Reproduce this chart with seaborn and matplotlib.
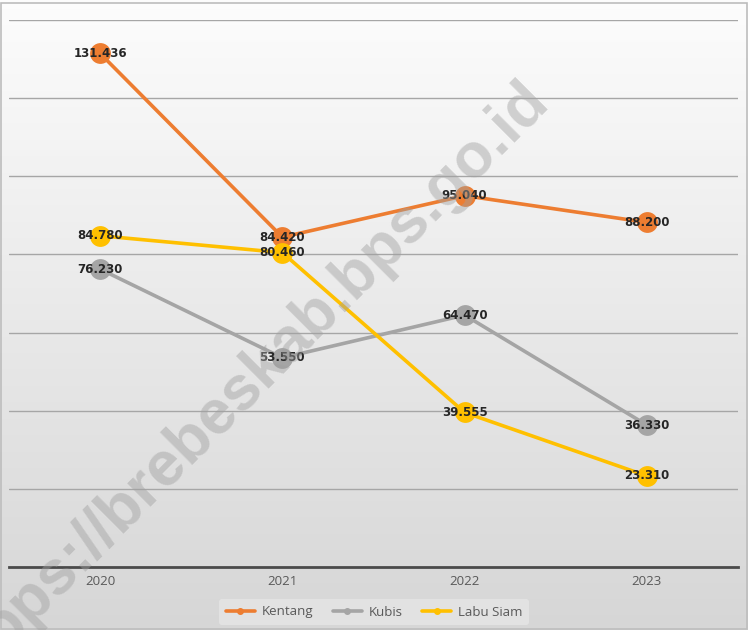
import numpy as np
import pandas as pd
import matplotlib
matplotlib.use("Agg")
import matplotlib.pyplot as plt
import seaborn as sns
from matplotlib.lines import Line2D
from matplotlib.patches import Rectangle

# data produksi sayuran (kuintal)
tahun = ["2020", "2021", "2022", "2023"]
kentang = [131436, 84420, 95040, 88200]
kubis = [76230, 53550, 64470, 36330]
labu_siam = [84780, 80460, 39555, 23310]

seri = ["Kentang", "Kubis", "Labu Siam"]
warna = ["#ED7D31", "#A5A5A5", "#FFC000"]

df = pd.DataFrame({
    "tahun": tahun * 3,
    "nilai": kentang + kubis + labu_siam,
    "seri": [s for s in seri for _ in tahun],
})

sns.set_style("white")
plt.rcParams["font.family"] = ["Open Sans", "DejaVu Sans"]

fig = plt.figure(figsize=(7.48, 6.3), dpi=100)

# latar gradien abu-abu
bg = fig.add_axes([0, 0, 1, 1], zorder=-5)
grad = np.linspace(0.99, 0.84, 256).reshape(-1, 1)
bg.imshow(np.dstack([grad, grad, grad]), aspect="auto", extent=[0, 1, 0, 1])
bg.set_axis_off()

ax = fig.add_axes([9 / 748, 63 / 630, 729 / 748, 547 / 630])
ax.patch.set_alpha(0)

sns.lineplot(data=df, x="tahun", y="nilai", hue="seri", palette=warna,
             marker="o", markersize=15, markeredgewidth=0, linewidth=2.6,
             sort=False, legend=False, ax=ax)

ax.set_ylim(0, 140000)
ax.set_xlim(-0.5, 3.5)
ax.set_yticks(np.arange(20000, 140001, 20000))
ax.yaxis.grid(True, color="#a6a6a6", linewidth=1)
ax.set_axisbelow(True)
ax.set_yticklabels([])
ax.tick_params(axis="y", length=0)
ax.tick_params(axis="x", length=0, colors="#595959", labelsize=9.5, pad=6)
for s in ["top", "right", "left"]:
    ax.spines[s].set_visible(False)
ax.spines["bottom"].set_color("#4a4a4a")
ax.spines["bottom"].set_linewidth(2)
ax.set_xlabel("")
ax.set_ylabel("")

# label data
for nilai_seri in [kentang, kubis, labu_siam]:
    for i, v in enumerate(nilai_seri):
        teks = f"{v:,}".replace(",", ".")
        ax.text(i, v, teks, ha="center", va="center", fontsize=8.5,
                fontweight="bold", color="#262626", family="DejaVu Sans", zorder=5)

# legenda
handles = [Line2D([0], [0], color=c, lw=2.6, marker="o", markersize=4) for c in warna]
leg = fig.legend(handles, seri, loc="center", bbox_to_anchor=(0.5, 18 / 630),
                 ncol=3, frameon=True, fontsize=9.5, handlelength=2.2,
                 columnspacing=1.5, borderpad=0.5, handletextpad=0.5)
leg.get_frame().set_facecolor("#e6e6e6")
leg.get_frame().set_edgecolor("none")
for t in leg.get_texts():
    t.set_color("#595959")

# watermark
fig.text(0.355, 0.42, "bps://brebeskab.bps.go.id", rotation=45, ha="center",
         va="center", fontsize=45, fontweight="bold", color="#a0a0a0",
         alpha=0.45, rotation_mode="anchor", family="Liberation Sans", zorder=10)

# bingkai
fig.patches.append(Rectangle((0.002, 0.002), 0.996, 0.993, transform=fig.transFigure,
                             fill=False, edgecolor="#bdbdbd", linewidth=1.2))

fig.savefig("out.png", dpi=100)
